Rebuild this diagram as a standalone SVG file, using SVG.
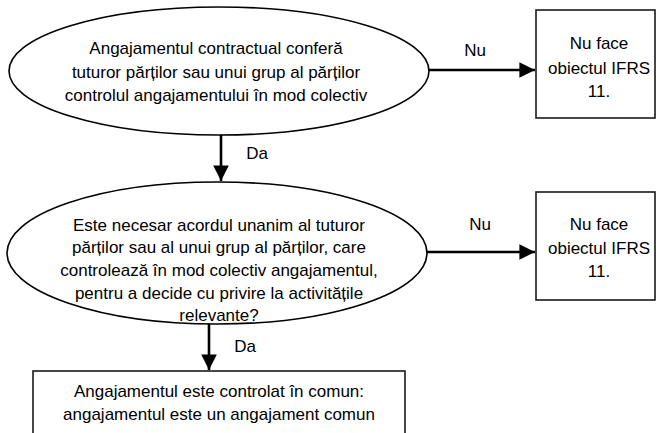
<svg xmlns="http://www.w3.org/2000/svg" width="656" height="433" viewBox="0 0 656 433">
  <style>
    .shape { fill: #ffffff; stroke: #000000; stroke-width: 1.6; }
    .box { fill: #ffffff; stroke: #1a1a1a; stroke-width: 1.6; }
    .label { font-family: "Liberation Sans", Arial, sans-serif; font-size: 17px; fill: #000000; text-anchor: middle; }
    .edge { fill: none; stroke: #000000; stroke-width: 2.6; }
  </style>
  <defs>
    <marker id="arrow" markerWidth="6" markerHeight="6" refX="6" refY="3" orient="auto" markerUnits="strokeWidth">
      <path d="M0,0 L6,3 L0,6 Z" fill="#000000"/>
    </marker>
  </defs>
  <rect width="656" height="433" fill="#ffffff"/>

  <!-- connectors -->
  <g id="connectors">
    <line class="edge" x1="428" y1="70" x2="535" y2="70" marker-end="url(#arrow)"/>
    <text class="label" x="475" y="56">Nu</text>
    <line class="edge" x1="221" y1="135" x2="221" y2="181" marker-end="url(#arrow)"/>
    <text class="label" x="257" y="159">Da</text>
    <line class="edge" x1="427" y1="252" x2="535" y2="252" marker-end="url(#arrow)"/>
    <text class="label" x="480" y="230">Nu</text>
    <line class="edge" x1="209" y1="324" x2="209" y2="370" marker-end="url(#arrow)"/>
    <text class="label" x="245" y="352">Da</text>
  </g>

  <!-- decision 1 -->
  <g id="decision-control">
    <ellipse class="shape" cx="219" cy="71" rx="210" ry="64"/>
    <text class="label" x="216" y="54">Angajamentul contractual conferă</text>
    <text class="label" x="216" y="78">tuturor părților sau unui grup al părților</text>
    <text class="label" x="216" y="101">controlul angajamentului în mod colectiv</text>
  </g>

  <!-- outcome: out of scope (1) -->
  <g id="out-of-scope-1">
    <rect class="box" x="536" y="10" width="119" height="108"/>
    <text class="label" x="599" y="49">Nu face</text>
    <text class="label" x="599" y="74">obiectul IFRS</text>
    <text class="label" x="599" y="97">11.</text>
  </g>

  <!-- decision 2 -->
  <g id="decision-unanimous">
    <ellipse class="shape" cx="217" cy="253" rx="210" ry="71"/>
    <text class="label" x="219" y="231">Este necesar acordul unanim al tuturor</text>
    <text class="label" x="219" y="253">părților sau al unui grup al părților, care</text>
    <text class="label" x="219" y="276">controlează în mod colectiv angajamentul,</text>
    <text class="label" x="219" y="299">pentru a decide cu privire la activitățile</text>
    <text class="label" x="219" y="321">relevante?</text>
  </g>

  <!-- outcome: out of scope (2) -->
  <g id="out-of-scope-2">
    <rect class="box" x="536" y="192" width="119" height="108"/>
    <text class="label" x="599" y="230">Nu face</text>
    <text class="label" x="599" y="254">obiectul IFRS</text>
    <text class="label" x="599" y="277">11.</text>
  </g>

  <!-- outcome: joint arrangement -->
  <g id="joint-arrangement">
    <rect class="box" x="33" y="371" width="372" height="80"/>
    <text class="label" x="219" y="397">Angajamentul este controlat în comun:</text>
    <text class="label" x="219" y="420">angajamentul este un angajament comun</text>
  </g>
</svg>
